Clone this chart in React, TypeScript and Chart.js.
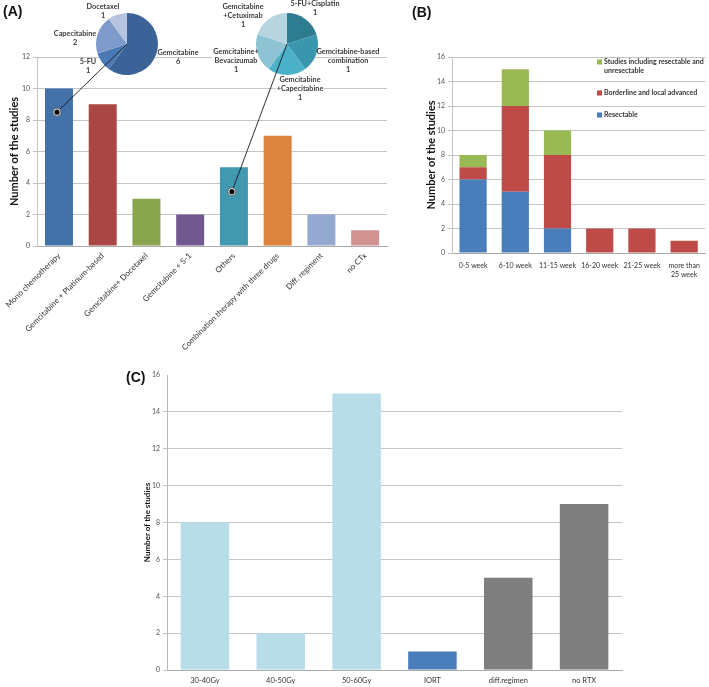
import React, { useEffect, useRef } from 'react';
import { Chart, registerables } from 'chart.js';

Chart.register(...registerables);

const FONT = 'Lato, "Open Sans", sans-serif';

// ---------- Panel A: chemotherapy regimen ----------
const regimenCategories = [
  'Mono chemotherapy',
  'Gemcitabine + Platinum-based',
  'Gemcitabine+ Docetaxel',
  'Gemcitabine + S-1',
  'Others',
  'Combination therapy with three drugs',
  'Diff. regiment',
  'no CTx',
];
const regimenCounts = [10, 9, 3, 2, 5, 7, 2, 1];
const regimenColors = ['#4371AA', '#AA4643', '#89A54E', '#71588F', '#4198AF', '#DB843D', '#93A9CF', '#D19392'];
const regimenMax = 12;

const monoLabels = ['Gemcitabine', '5-FU', 'Capecitabine', 'Docetaxel'];
const monoCounts = [6, 1, 2, 1];
const monoColors = ['#3B6397', '#4A79B6', '#7F9BCB', '#B7C4DF'];
const monoCalloutIndex = 0;
const monoCalloutValue = 8.5;

const othersLabels = [
  '5-FU+Cisplatin',
  'Gemcitabine-based\ncombination',
  'Gemcitabine\n+Capecitabine',
  'Gemcitabine+\nBevacizumab',
  'Gemcitabine\n+Cetuximab',
];
const othersCounts = [1, 1, 1, 1, 1];
const othersColors = ['#2E7C8F', '#3A96AC', '#4BB1C9', '#8EC3D3', '#B6D5DF'];
const othersCalloutIndex = 4;
const othersCalloutValue = 3.45;

// ---------- Panel B: interval ----------
const intervalCategories: (string | string[])[] = ['0-5 week', '6-10 week', '11-15 week', '16-20 week', '21-25 week', ['more than', '25 week']];
const resectableCounts = [6, 5, 2, 0, 0, 0];
const borderlineCounts = [1, 7, 6, 2, 2, 1];
const mixedCounts = [1, 3, 2, 0, 0, 0];
const intervalMax = 16;

// ---------- Panel C: radiotherapy dose ----------
const doseCategories = ['30-40Gy', '40-50Gy', '50-60Gy', 'IORT', 'diff.regimen', 'no RTX'];
const doseCounts = [8, 2, 15, 1, 5, 9];
const doseColors = ['#B7DDE8', '#B7DDE8', '#B7DDE8', '#4A7EBB', '#7F7F7F', '#7F7F7F'];
const doseMax = 16;

type Off = [number, number];

function makeCallout(
  id: string,
  getBar: () => any,
  catIndex: number,
  value: number,
  labels: string[],
  counts: number[],
  offsets: Off[],
  whiteBg: boolean[],
) {
  const lineH = 8.6;
  const linesOf = (i: number) => [...labels[i].split('\n'), String(counts[i])];
  return {
    id,
    beforeDatasetsDraw(chart: any) {
      const arc = chart.getDatasetMeta(0).data[0];
      if (!arc) return;
      const ctx = chart.ctx;
      ctx.save();
      ctx.font = `bold 7.3px ${FONT}`;
      labels.forEach((_, i) => {
        if (!whiteBg[i]) return;
        const lines = linesOf(i);
        const w = Math.max(...lines.map((l) => ctx.measureText(l).width)) + 2;
        const [dx, dy] = offsets[i];
        ctx.fillStyle = '#ffffff';
        ctx.fillRect(arc.x + dx - w / 2, arc.y + dy - 4.5, w, lines.length * lineH + 1);
      });
      ctx.restore();
    },
    afterDraw(chart: any) {
      const arc = chart.getDatasetMeta(0).data[0];
      if (!arc) return;
      const ctx = chart.ctx;
      const cx = arc.x;
      const cy = arc.y;
      ctx.save();
      ctx.font = `bold 7.3px ${FONT}`;
      ctx.fillStyle = '#3a3a3a';
      ctx.textAlign = 'center';
      ctx.textBaseline = 'middle';
      labels.forEach((_, i) => {
        const [dx, dy] = offsets[i];
        linesOf(i).forEach((ln, j) => ctx.fillText(ln, cx + dx, cy + dy + j * lineH));
      });
      const bar = getBar();
      if (bar) {
        const px = bar.scales.x.getPixelForValue(catIndex) - 2;
        const py = bar.scales.y.getPixelForValue(value);
        ctx.strokeStyle = '#1a1a1a';
        ctx.lineWidth = 0.9;
        ctx.beginPath();
        ctx.moveTo(cx, cy);
        ctx.lineTo(px, py);
        ctx.stroke();
        ctx.beginPath();
        ctx.arc(px, py, 4, 0, Math.PI * 2);
        ctx.fillStyle = '#ffffff';
        ctx.fill();
        ctx.strokeStyle = '#444';
        ctx.lineWidth = 0.7;
        ctx.stroke();
        ctx.beginPath();
        ctx.arc(px, py, 2.6, 0, Math.PI * 2);
        ctx.fillStyle = '#000';
        ctx.fill();
      }
      ctx.restore();
    },
  };
}

const stackLegend = {
  id: 'stackLegend',
  afterDraw(chart: any) {
    const ctx = chart.ctx;
    const { left, top } = chart.chartArea;
    const x0 = left + 145;
    let y = top + 5;
    ctx.save();
    ctx.font = `bold 7px ${FONT}`;
    ctx.textBaseline = 'middle';
    ctx.textAlign = 'left';
    const ds = chart.data.datasets.slice().reverse();
    ds.forEach((d: any) => {
      const words = String(d.label).split(' ');
      const lines: string[] = [];
      let cur = '';
      words.forEach((w) => {
        const t = cur ? cur + ' ' + w : w;
        if (ctx.measureText(t).width > 100 && cur) {
          lines.push(cur);
          cur = w;
        } else cur = t;
      });
      if (cur) lines.push(cur);
      ctx.fillStyle = d.backgroundColor;
      ctx.fillRect(x0, y - 2.5, 5, 5);
      ctx.fillStyle = '#333';
      lines.forEach((ln, j) => ctx.fillText(ln, x0 + 7, y + j * 9));
      y += (lines.length - 1) * 9 + 22;
    });
    ctx.restore();
  },
};

const axisTitle = (text: string, size: number, pad: number) => ({
  display: true,
  text,
  color: '#111',
  font: { family: FONT, size, weight: 'bold' as const },
  padding: { top: pad, bottom: 0 },
});

export default function App() {
  const aRef = useRef<HTMLCanvasElement>(null);
  const p1Ref = useRef<HTMLCanvasElement>(null);
  const p2Ref = useRef<HTMLCanvasElement>(null);
  const bRef = useRef<HTMLCanvasElement>(null);
  const cRef = useRef<HTMLCanvasElement>(null);

  useEffect(() => {
    const charts: Chart[] = [];

    const barA = new Chart(aRef.current!, {
      type: 'bar',
      data: {
        labels: regimenCategories,
        datasets: [{ data: regimenCounts, backgroundColor: regimenColors, barPercentage: 0.64, categoryPercentage: 1 }],
      },
      options: {
        animation: false,
        responsive: false,
        layout: { padding: { top: 57, right: 8, left: 0, bottom: 0 } },
        plugins: { legend: { display: false }, tooltip: { enabled: false } },
        scales: {
          x: {
            grid: { display: false, drawTicks: false },
            border: { display: true, color: '#a8a8a8' },
            ticks: { minRotation: 45, maxRotation: 45, autoSkip: false, color: '#333', padding: 5, font: { family: FONT, size: 8 } },
            afterFit: (s: any) => { s.height = 104; },
          },
          y: {
            min: 0,
            max: regimenMax,
            ticks: { stepSize: 2, color: '#555', padding: 3, font: { family: FONT, size: 7 } },
            grid: { color: '#c4c4c4', tickLength: 4 },
            border: { color: '#c4c4c4' },
            title: axisTitle('Number of the studies', 11, 5),
            afterFit: (s: any) => { s.width = 34; },
          },
        },
      },
    });
    charts.push(barA);

    const pieBase = (padding: any, labels: string[], data: number[], colors: string[], plugin: any) =>
      new Chart(plugin.canvas, {
        type: 'pie',
        data: { labels, datasets: [{ data, backgroundColor: colors, borderWidth: 0 }] },
        options: {
          animation: false,
          responsive: false,
          layout: { padding },
          plugins: { legend: { display: false }, tooltip: { enabled: false } },
        },
        plugins: [plugin.p],
      });

    charts.push(
      pieBase(
        { left: 96, right: 237, top: 13, bottom: 275 },
        monoLabels,
        monoCounts,
        monoColors,
        {
          canvas: p1Ref.current!,
          p: makeCallout('callout1', () => barA, monoCalloutIndex, monoCalloutValue, monoLabels, monoCounts,
            [[51, 9], [-39, 18], [-52, -10], [-24, -37]], [false, false, false, false]),
        },
      ),
    );

    charts.push(
      pieBase(
        { left: 256, right: 77, top: 13, bottom: 275 },
        othersLabels,
        othersCounts,
        othersColors,
        {
          canvas: p2Ref.current!,
          p: makeCallout('callout2', () => barA, othersCalloutIndex, othersCalloutValue, othersLabels, othersCounts,
            [[28, -40], [61, 8], [13, 36], [-51, 8], [-44, -37]], [false, false, true, true, false]),
        },
      ),
    );

    charts.push(
      new Chart(bRef.current!, {
        type: 'bar',
        data: {
          labels: intervalCategories as any,
          datasets: [
            { label: 'Resectable', data: resectableCounts, backgroundColor: '#4A7EBB', barPercentage: 0.645, categoryPercentage: 1 },
            { label: 'Borderline and local advanced', data: borderlineCounts, backgroundColor: '#BE4B48', barPercentage: 0.645, categoryPercentage: 1 },
            { label: 'Studies including resectable and unresectable', data: mixedCounts, backgroundColor: '#98B954', barPercentage: 0.645, categoryPercentage: 1 },
          ],
        },
        options: {
          animation: false,
          responsive: false,
          layout: { padding: { top: 57, right: 2, left: 0, bottom: 0 } },
          plugins: { legend: { display: false }, tooltip: { enabled: false } },
          scales: {
            x: {
              stacked: true,
              grid: { display: false, drawTicks: false },
              border: { display: true, color: '#a8a8a8' },
              ticks: { autoSkip: false, maxRotation: 0, color: '#333', padding: 9, font: { family: FONT, size: 7 } },
              afterFit: (s: any) => { s.height = 37; },
            },
            y: {
              stacked: true,
              min: 0,
              max: intervalMax,
              ticks: { stepSize: 2, color: '#555', padding: 3, font: { family: FONT, size: 7 } },
              grid: { color: '#c4c4c4', tickLength: 4 },
              border: { color: '#c4c4c4' },
              title: axisTitle('Number of the studies', 11, 30),
              afterFit: (s: any) => { s.width = 57; },
            },
          },
        },
        plugins: [stackLegend],
      }),
    );

    charts.push(
      new Chart(cRef.current!, {
        type: 'bar',
        data: {
          labels: doseCategories,
          datasets: [{ data: doseCounts, backgroundColor: doseColors, barPercentage: 0.64, categoryPercentage: 1 }],
        },
        options: {
          animation: false,
          responsive: false,
          layout: { padding: { top: 20, right: 18, left: 0, bottom: 0 } },
          plugins: { legend: { display: false }, tooltip: { enabled: false } },
          scales: {
            x: {
              grid: { display: false, drawTicks: false },
              border: { display: true, color: '#a8a8a8' },
              ticks: { autoSkip: false, maxRotation: 0, color: '#333', padding: 6, font: { family: FONT, size: 7.5 } },
              afterFit: (s: any) => { s.height = 17; },
            },
            y: {
              min: 0,
              max: doseMax,
              ticks: { stepSize: 2, color: '#555', padding: 3, font: { family: FONT, size: 7 } },
              grid: {
                color: (c: any) => (c.tick && c.tick.value === doseMax ? 'rgba(0,0,0,0)' : '#c4c4c4'),
                tickLength: 4,
              },
              border: { color: '#b8b8b8' },
              title: axisTitle('Number of the studies', 8, 43),
              afterFit: (s: any) => { s.width = 67; },
            },
          },
        },
      }),
    );

    return () => charts.forEach((c) => c.destroy());
  }, []);

  const abs = (left: number, top: number): React.CSSProperties => ({ position: 'absolute', left, top });
  const tag: React.CSSProperties = { position: 'absolute', fontFamily: '"Liberation Sans", Arial, sans-serif', fontWeight: 'bold', fontSize: 14, color: '#111', lineHeight: '14px' };

  return (
    <div style={{ position: 'fixed', left: 0, top: 0, width: 709, height: 687, background: '#fff', overflow: 'hidden' }}>
      <canvas ref={aRef} width={395} height={350} style={{ ...abs(0, 0), width: 395, height: 350 }} />
      <canvas ref={p1Ref} width={395} height={350} style={{ ...abs(0, 0), width: 395, height: 350 }} />
      <canvas ref={p2Ref} width={395} height={350} style={{ ...abs(0, 0), width: 395, height: 350 }} />
      <canvas ref={bRef} width={314} height={290} style={{ ...abs(395, 0), width: 314, height: 290 }} />
      <canvas ref={cRef} width={540} height={332} style={{ ...abs(100, 355), width: 540, height: 332 }} />
      <div style={{ ...tag, left: 3, top: 4 }}>(A)</div>
      <div style={{ ...tag, left: 412, top: 5 }}>(B)</div>
      <div style={{ ...tag, left: 126, top: 370 }}>(C)</div>
    </div>
  );
}
